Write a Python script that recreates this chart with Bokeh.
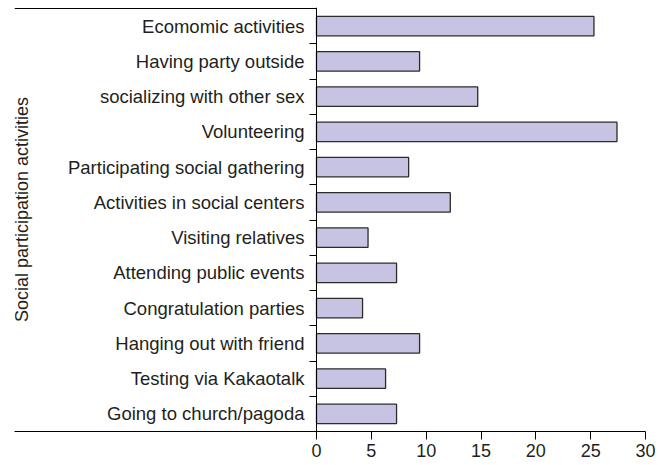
from bokeh.plotting import figure
from bokeh.models import Range1d, FixedTicker, ColumnDataSource
from bokeh.embed import file_html
from bokeh.resources import INLINE

# ---- data (top to bottom as shown) ----
categories = [
    "Ecomomic activities",
    "Having party outside",
    "socializing with other sex",
    "Volunteering",
    "Participating social gathering",
    "Activities in social centers",
    "Visiting relatives",
    "Attending public events",
    "Congratulation parties",
    "Hanging out with friend",
    "Testing via Kakaotalk",
    "Going to church/pagoda",
]
values = [25.3, 9.4, 14.7, 27.4, 8.4, 12.2, 4.7, 7.3, 4.2, 9.4, 6.3, 7.3]
x_ticks = [0, 5, 10, 15, 20, 25, 30]
y_title = "Social participation activities"

n = len(categories)
ypos = [n - 1 - i + 0.5 for i in range(n)]
boundaries = list(range(n + 1))

# ---- layout (pixels) ----
W, H = 667, 465
rule_left = 14          # where the horizontal rules start
axis_x = 316            # pixel of value 0
axis_right = 645        # pixel of value 30
plot_top = 8            # pixel of the top category boundary
plot_bottom = 431       # pixel of the bottom category boundary

xmax = x_ticks[-1]
ppu = (axis_right - axis_x) / xmax
x_start = -(axis_x - rule_left) / ppu
ppc = (plot_bottom - plot_top) / n
y_end = n + 1.0 / ppc   # one extra pixel on top so the top rule is not clipped

src = ColumnDataSource(dict(y=ypos, right=values, cat=categories))

FONT = "Liberation Sans"
TXT = "#231f20"

p = figure(width=W, height=H, output_backend="svg", toolbar_location=None,
           x_range=Range1d(x_start, xmax), y_range=Range1d(0, y_end),
           min_border_left=rule_left, min_border_right=W - axis_right,
           min_border_top=plot_top - 1, min_border_bottom=H - plot_bottom)
p.outline_line_color = None
p.xgrid.visible = False
p.ygrid.visible = False
p.background_fill_color = "white"
p.border_fill_color = "white"

p.hbar(y="y", right="right", left=0, height=0.55, source=src,
       fill_color="#c6c4e2", line_color="#2b2b2b", line_width=1.3)

# top rule, running from the left edge to the category axis
p.segment(x0=[x_start], y0=[n], x1=[0], y1=[n], line_color="black", line_width=1)

# x axis (its line runs across the whole frame, like the reference's bottom rule)
xa = p.xaxis[0]
xa.ticker = FixedTicker(ticks=x_ticks, minor_ticks=[])
xa.axis_line_color = "black"
xa.axis_line_width = 1
xa.major_tick_out = 8
xa.major_tick_in = 0
xa.major_tick_line_color = "black"
xa.minor_tick_line_color = None
xa.major_label_standoff = 4
xa.major_label_text_font = FONT
xa.major_label_text_font_size = "18px"
xa.major_label_text_color = TXT

# category axis, fixed at value 0
ya = p.yaxis[0]
ya.fixed_location = 0
ya.ticker = FixedTicker(ticks=ypos, minor_ticks=boundaries)
ya.major_label_overrides = {y: c for y, c in zip(ypos, categories)}
ya.axis_line_color = "black"
ya.axis_line_width = 1
ya.major_tick_out = 0
ya.major_tick_in = 0
ya.major_tick_line_color = None
ya.minor_tick_out = 7
ya.minor_tick_in = 0
ya.minor_tick_line_color = "black"
ya.minor_tick_line_width = 1
ya.major_label_standoff = 5
ya.major_label_text_font = FONT
ya.major_label_text_font_size = "18.5px"
ya.major_label_text_color = TXT
ya.axis_label = "\u00a0\u00a0\u00a0\u00a0" + y_title
ya.axis_label_text_font = FONT
ya.axis_label_text_font_style = "normal"
ya.axis_label_text_font_size = "18px"
ya.axis_label_text_color = TXT
ya.axis_label_standoff = 33

open("out.html", "w").write(file_html(p, INLINE))
